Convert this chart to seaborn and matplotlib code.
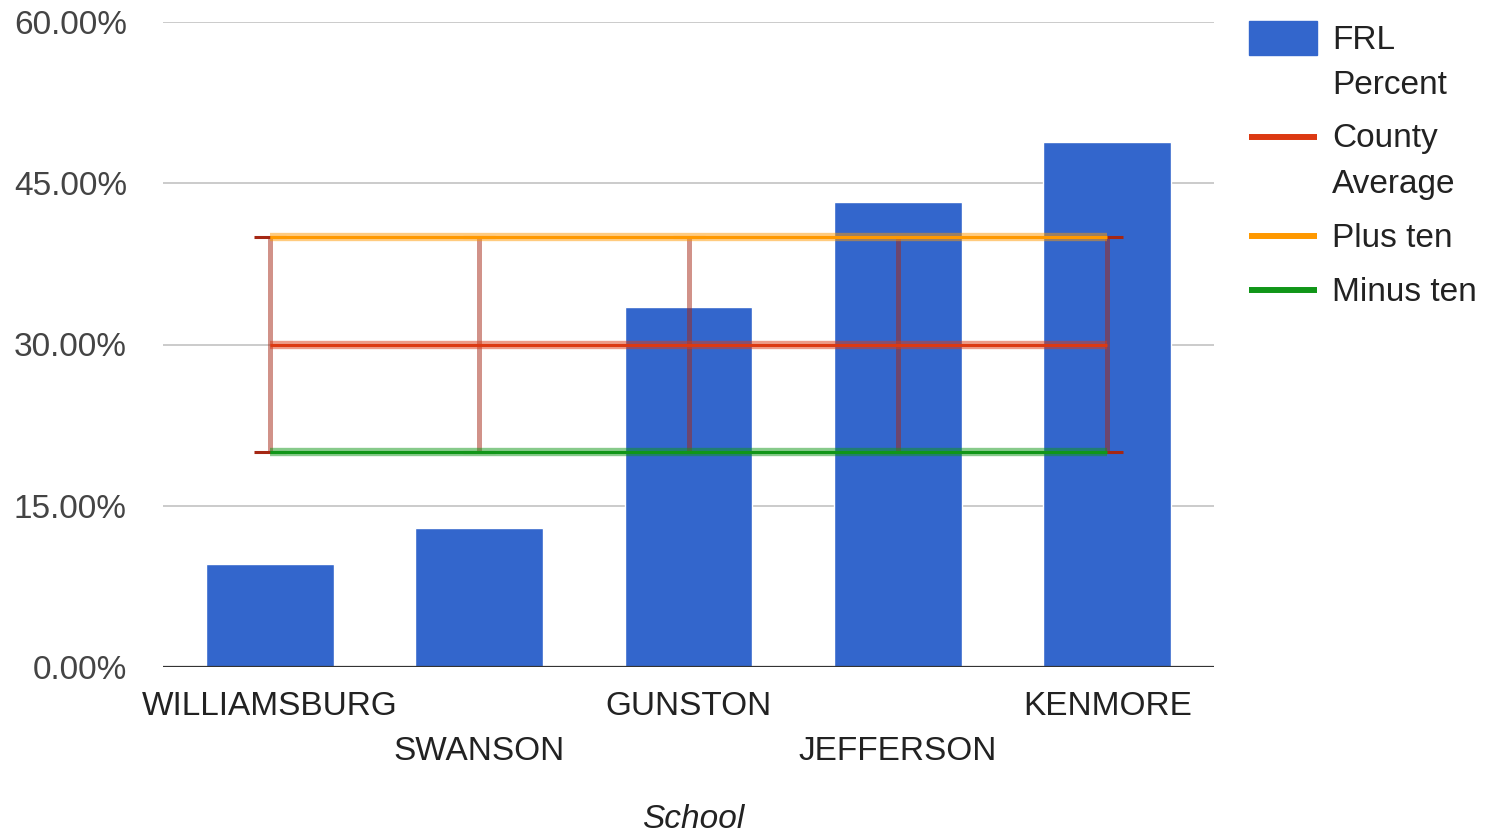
import matplotlib.pyplot as plt
import seaborn as sns
from matplotlib.lines import Line2D
from matplotlib.patches import Rectangle
from matplotlib.ticker import FuncFormatter

# datos
schools = ["WILLIAMSBURG", "SWANSON", "GUNSTON", "JEFFERSON", "KENMORE"]
frl_percent = [9.6, 12.9, 33.5, 43.3, 48.8]
county_average = [30, 30, 30, 30, 30]
plus_ten = [40, 40, 40, 40, 40]
minus_ten = [20, 20, 20, 20, 20]
y_ticks = [0, 15, 30, 45, 60]
legend_lines = [["FRL", "Percent"], ["County", "Average"], ["Plus ten"], ["Minus ten"]]

BLUE = "#3366cc"
RED = "#dc3912"
ORANGE = "#ff9900"
GREEN = "#109618"
INTERVAL = "#a52714"
FS = 24

sns.set_theme(style="white")
plt.rcParams["font.family"] = ["Liberation Sans", "DejaVu Sans"]

W, H = 1496, 832
fig = plt.figure(figsize=(W / 100, H / 100), dpi=100)
ax = fig.add_axes([163 / W, 165 / H, 1051 / W, 645 / H])

# barras
sns.barplot(x=schools, y=frl_percent, color=BLUE, saturation=1,
            width=0.61, ax=ax, zorder=2)

xs = list(range(len(schools)))

# intervalos verticales (minus ten -> plus ten)
yerr = [[c - m for c, m in zip(county_average, minus_ten)],
        [p - c for c, p in zip(county_average, plus_ten)]]
_, caps, bars = ax.errorbar(xs, county_average, yerr=yerr, fmt="none",
                            ecolor=INTERVAL, elinewidth=3.6, capsize=11.5,
                            capthick=2.2, zorder=3)
for b in bars:
    b.set_alpha(0.5)

# lineas horizontales con halo
for vals, col in [(county_average, RED), (plus_ten, ORANGE), (minus_ten, GREEN)]:
    ax.plot(xs, vals, color=col, lw=6, alpha=0.5, solid_capstyle="butt", zorder=4)
    ax.plot(xs, vals, color=col, lw=2.2, solid_capstyle="butt", zorder=5)

# ejes
ax.set_xlim(-0.51, 4.51)
ax.set_ylim(0, 60)
ax.set_yticks(y_ticks)
ax.yaxis.set_major_formatter(FuncFormatter(lambda v, _: f"{v:.2f}%"))
ax.yaxis.grid(True, color="#cccccc", lw=1.44)
ax.xaxis.grid(False)
ax.set_axisbelow(True)
ax.axhline(0, color="#333333", lw=1.6, zorder=6)
for s in ax.spines.values():
    s.set_visible(False)

ax.tick_params(axis="y", length=0, labelsize=FS, labelcolor="#444444", pad=26)
ax.tick_params(axis="x", length=0, labelsize=FS, labelcolor="#222222", pad=17)
for i, tick in enumerate(ax.xaxis.get_major_ticks()):
    if i % 2 == 1:
        tick.set_pad(17 + 45 / 1.389)

ax.set_ylabel("")
ax.set_xlabel("School", fontsize=FS, style="italic", color="#222222")
ax.xaxis.set_label_coords(0.504, -0.212)

# leyenda manual (coordenadas en pixeles)
lax = fig.add_axes([0, 0, 1, 1])
lax.set_xlim(0, W)
lax.set_ylim(H, 0)
lax.axis("off")
lax.patch.set_visible(False)

lax.add_patch(Rectangle((1249, 21), 68, 34, color=BLUE))
for y, col in [(137, RED), (236, ORANGE), (290, GREEN)]:
    lax.add_line(Line2D([1249, 1317], [y, y], color=col, lw=4.3, solid_capstyle="butt"))

baselines = [[49, 94], [147, 193], [247], [301]]
for lines, ys in zip(legend_lines, baselines):
    for txt, y in zip(lines, ys):
        lax.text(1332, y, txt, fontsize=FS, color="#222222", va="baseline", ha="left")

fig.savefig("out.png", dpi=100)
